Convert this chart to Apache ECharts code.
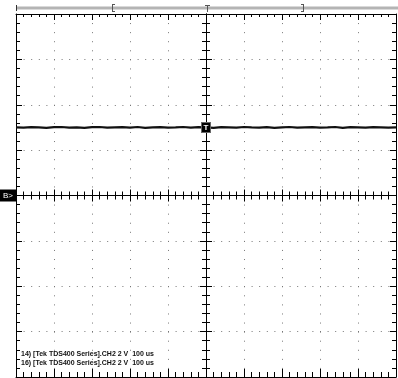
<!DOCTYPE html>
<html><head><meta charset="utf-8">
<script src="https://cdn.jsdelivr.net/npm/echarts@6/dist/echarts.min.js"></script>
<style>html,body{margin:0;padding:0;background:#fff}#c{width:398px;height:378px}</style>
</head><body><div id="c"></div>
<script>
// time axis: 100 us/div, 10 divisions; voltage axis: 2 V/div, 8 divisions
const timeUs = [-500,-480,-460,-440,-420,-400,-380,-360,-340,-320,-300,-280,-260,-240,-220,-200,-180,-160,-140,-120,-100,-80,-60,-40,-20,0,20,40,60,80,100,120,140,160,180,200,220,240,260,280,300,320,340,360,380,400,420,440,460,480,500];
const ch2Volts = [3.00,2.99,3.01,3.00,2.98,3.01,3.02,2.99,3.00,2.98,
                  3.01,3.02,2.99,3.00,3.01,2.99,3.02,2.98,3.00,3.01,
                  2.99,3.00,3.02,2.99,3.01,3.00,2.98,3.01,3.00,2.99,
                  3.02,3.00,2.99,3.01,2.98,3.00,3.02,2.99,3.00,3.01,
                  2.99,3.00,3.02,2.98,3.01,3.00,2.99,3.01,3.00,2.99,3.00];
const triggerPoint = [0, 3];
const groundPoint = [-500, 0];
const infoLines = ['14) [Tek TDS400 Series].CH2 2 V  100 us', '16) [Tek TDS400 Series].CH2 2 V  100 us'];
const triggerLabel = 'T';
const groundLabel = 'B>';

const chart = echarts.init(document.getElementById('c'), null, {renderer: 'canvas'});
const G = {left: 16, top: 14, width: 380, height: 363};

function xAx(position, onZero, inside, major, minor, split) {
  return {
    type: 'value', min: -500, max: 500, interval: 100, position: position,
    axisLine: {show: true, onZero: onZero, onZeroAxisIndex: 0, lineStyle: {color: '#000', width: 1}},
    axisTick: {show: true, inside: inside, length: major, lineStyle: {color: '#000', width: 1}},
    minorTick: {show: true, splitNumber: 5, length: minor, lineStyle: {color: '#000', width: 1}},
    axisLabel: {show: false},
    splitLine: {show: split, lineStyle: {type: [1, 8.075], color: '#777', width: 1}},
    minorSplitLine: {show: false}
  };
}
function yAx(position, onZero, inside, major, minor, split) {
  return {
    type: 'value', min: -8, max: 8, interval: 2, position: position,
    axisLine: {show: true, onZero: onZero, onZeroAxisIndex: 0, lineStyle: {color: '#000', width: 1}},
    axisTick: {show: true, inside: inside, length: major, lineStyle: {color: '#000', width: 1}},
    minorTick: {show: true, splitNumber: 5, length: minor, lineStyle: {color: '#000', width: 1}},
    axisLabel: {show: false},
    splitLine: {show: split, lineStyle: {type: [1, 6.6], color: '#777', width: 1}},
    minorSplitLine: {show: false}
  };
}

const option = {
  backgroundColor: '#fff',
  animation: false,
  grid: {left: G.left, top: G.top, width: G.width, height: G.height, containLabel: false},
  xAxis: [
    xAx('bottom', false, true, 8, 5, true),
    xAx('top', false, true, 6, 3, false),
    xAx('bottom', true, true, 6, 4, false),
    xAx('bottom', true, false, 6, 4, false)
  ],
  yAxis: [
    yAx('left', false, true, 6, 4, true),
    yAx('right', false, true, 6, 4, false),
    yAx('left', true, true, 6, 4, false),
    yAx('left', true, false, 6, 4, false)
  ],
  series: [{
    name: 'CH2', type: 'line', xAxisIndex: 0, yAxisIndex: 0,
    data: timeUs.map((t, i) => [t, ch2Volts[i]]),
    showSymbol: false, symbol: 'none',
    lineStyle: {color: '#111', width: 2.2},
    markPoint: {
      silent: true,
      data: [
        {coord: triggerPoint, symbol: 'rect', symbolSize: [9, 10],
         itemStyle: {color: '#000', borderColor: '#666', borderWidth: 1},
         label: {show: true, position: 'inside', formatter: triggerLabel, color: '#fff', fontSize: 8, fontWeight: 'bold', fontFamily: 'Liberation Sans'}},
        {coord: groundPoint, symbol: 'rect', symbolSize: [16, 12], symbolOffset: [-8, 0],
         itemStyle: {color: '#000'},
         label: {show: true, position: 'inside', formatter: groundLabel, color: '#fff', fontSize: 8, fontFamily: 'Liberation Sans'}}
      ]
    }
  }],
  graphic: [
    {type: 'line', shape: {x1: 16, y1: 8, x2: 398, y2: 8}, style: {stroke: '#b4b4b4', lineWidth: 3}},
    {type: 'line', shape: {x1: 16.5, y1: 5, x2: 16.5, y2: 11}, style: {stroke: '#333', lineWidth: 1}},
    {type: 'line', shape: {x1: 112.5, y1: 4, x2: 112.5, y2: 12}, style: {stroke: '#555', lineWidth: 1}},
    {type: 'line', shape: {x1: 112.5, y1: 4.5, x2: 115, y2: 4.5}, style: {stroke: '#555', lineWidth: 1}},
    {type: 'line', shape: {x1: 112.5, y1: 11.5, x2: 115, y2: 11.5}, style: {stroke: '#555', lineWidth: 1}},
    {type: 'line', shape: {x1: 303.5, y1: 4, x2: 303.5, y2: 12}, style: {stroke: '#555', lineWidth: 1}},
    {type: 'line', shape: {x1: 301, y1: 4.5, x2: 303.5, y2: 4.5}, style: {stroke: '#555', lineWidth: 1}},
    {type: 'line', shape: {x1: 301, y1: 11.5, x2: 303.5, y2: 11.5}, style: {stroke: '#555', lineWidth: 1}},
    {type: 'line', shape: {x1: 207.5, y1: 5, x2: 207.5, y2: 12}, style: {stroke: '#555', lineWidth: 1}},
    {type: 'line', shape: {x1: 205, y1: 5.5, x2: 210, y2: 5.5}, style: {stroke: '#555', lineWidth: 1}},
    {type: 'text', left: 21, top: 351, style: {text: infoLines[0], fill: '#111', font: 'bold 7px "Liberation Sans", Arial'}},
    {type: 'text', left: 21, top: 359.5, style: {text: infoLines[1], fill: '#111', font: 'bold 7px "Liberation Sans", Arial'}}
  ]
};
chart.setOption(option);
</script></body></html>
